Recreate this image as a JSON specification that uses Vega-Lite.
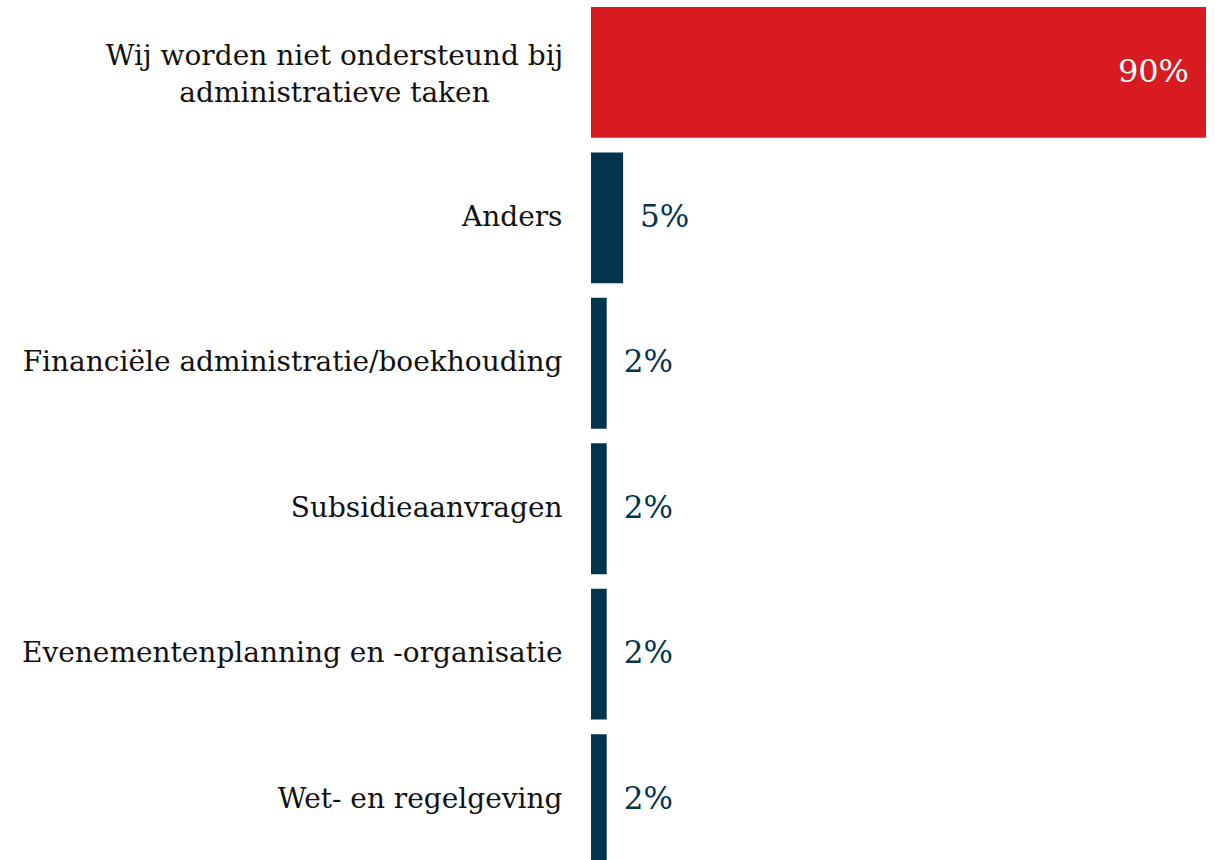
{
  "$schema": "https://vega.github.io/schema/vega-lite/v6.json",
  "width": 615,
  "height": 872,
  "autosize": {"type": "none"},
  "padding": {"left": 591, "top": 0, "right": 9, "bottom": 0},
  "background": "white",
  "config": {"view": {"stroke": null}},
  "data": {
    "values": [
      {"categorie": "Wij worden niet ondersteund bij administratieve taken", "aandeel": 0.90},
      {"categorie": "Anders", "aandeel": 0.047},
      {"categorie": "Financiële administratie/boekhouding", "aandeel": 0.023},
      {"categorie": "Subsidieaanvragen", "aandeel": 0.023},
      {"categorie": "Evenementenplanning en -organisatie", "aandeel": 0.023},
      {"categorie": "Wet- en regelgeving", "aandeel": 0.023}
    ]
  },
  "encoding": {
    "y": {
      "field": "categorie",
      "type": "nominal",
      "sort": null,
      "scale": {"paddingInner": 0.1, "paddingOuter": 0.048},
      "axis": {
        "title": null,
        "domain": false,
        "ticks": false,
        "labelFont": "DejaVu Serif",
        "labelFontSize": 28,
        "labelColor": "#111111",
        "labelLimit": 0,
        "labelLineHeight": 37,
        "labelExpr": "datum.label == 'Wij worden niet ondersteund bij administratieve taken' ? ['Wij worden niet ondersteund bij', 'administratieve taken'] : datum.label",
        "labelAlign": {"condition": {"test": "datum.value == 'Wij worden niet ondersteund bij administratieve taken'", "value": "center"}, "value": "right"},
        "labelPadding": {"condition": {"test": "datum.value == 'Wij worden niet ondersteund bij administratieve taken'", "value": 257}, "value": 29},
        "labelOffset": {"condition": {"test": "datum.value == 'Wij worden niet ondersteund bij administratieve taken'", "value": -15}, "value": 0}
      }
    },
    "x": {
      "field": "aandeel",
      "type": "quantitative",
      "scale": {"domain": [0, 0.9], "nice": false},
      "axis": null
    }
  },
  "layer": [
    {
      "mark": {"type": "bar"},
      "encoding": {
        "color": {"condition": {"test": "datum.aandeel > 0.5", "value": "#D71B21"}, "value": "#03344E"}
      }
    },
    {
      "transform": [{"filter": "datum.aandeel > 0.5"}],
      "mark": {"type": "text", "align": "right", "baseline": "middle", "dx": -17, "font": "DejaVu Serif", "fontSize": 32, "color": "white"},
      "encoding": {"text": {"field": "aandeel", "type": "quantitative", "format": ".0%"}}
    },
    {
      "transform": [{"filter": "datum.aandeel <= 0.5"}],
      "mark": {"type": "text", "align": "left", "baseline": "middle", "dx": 17, "font": "DejaVu Serif", "fontSize": 31, "color": "#03344E"},
      "encoding": {"text": {"field": "aandeel", "type": "quantitative", "format": ".0%"}}
    }
  ]
}
